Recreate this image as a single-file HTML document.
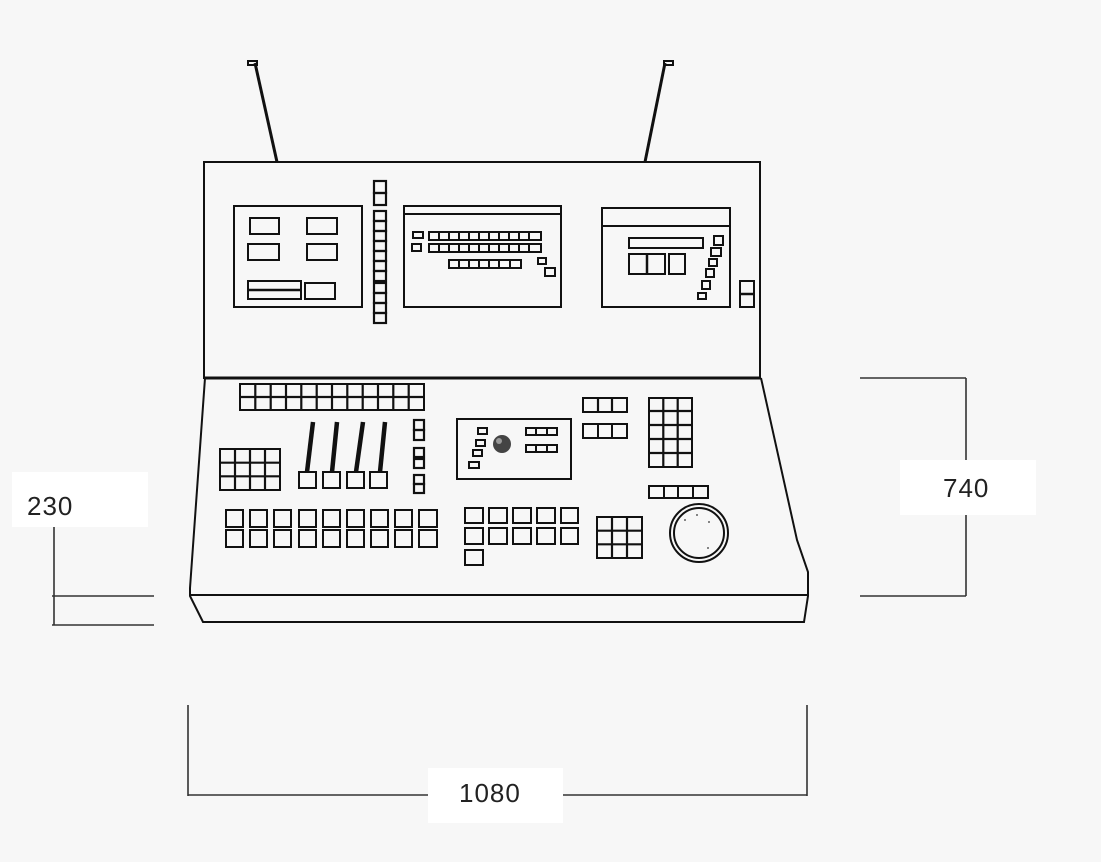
<!DOCTYPE html>
<html><head><meta charset="utf-8"><style>
html,body{margin:0;padding:0;background:#f7f7f7;}
svg{display:block;}
text{font-family:"Liberation Sans",sans-serif;font-size:26px;fill:#222;letter-spacing:1px;}
</style></head><body>
<svg width="1101" height="862" viewBox="0 0 1101 862" xmlns="http://www.w3.org/2000/svg">
<rect width="1101" height="862" fill="#f7f7f7"/>
<g fill="none" stroke="#111" stroke-width="2">
<line x1="255" y1="63" x2="277" y2="162" stroke-width="3"/>
<rect x="248" y="61" width="9" height="4"/>
<line x1="665" y1="63" x2="645" y2="162" stroke-width="3"/>
<rect x="664" y="61" width="9" height="4"/>
<rect x="204" y="162" width="556" height="216"/>
<rect x="234" y="206" width="128" height="101"/>
<rect x="250" y="218" width="29" height="16"/><rect x="307" y="218" width="30" height="16"/>
<rect x="248" y="244" width="31" height="16"/><rect x="307" y="244" width="30" height="16"/>
<rect x="248" y="281" width="53" height="18"/><line x1="248" y1="290" x2="301" y2="290" stroke-width="2.5"/>
<rect x="305" y="283" width="30" height="16"/>
<g stroke-width="2.2">
<rect x="374" y="181" width="12" height="12"/><rect x="374" y="193" width="12" height="12"/>
<rect x="374" y="211" width="12" height="10"/><rect x="374" y="221" width="12" height="10"/><rect x="374" y="231" width="12" height="10"/><rect x="374" y="241" width="12" height="10"/><rect x="374" y="251" width="12" height="10"/><rect x="374" y="261" width="12" height="10"/><rect x="374" y="271" width="12" height="10"/>
<rect x="374" y="283" width="12" height="10"/><rect x="374" y="293" width="12" height="10"/><rect x="374" y="303" width="12" height="10"/><rect x="374" y="313" width="12" height="10"/>
</g>
<rect x="404" y="206" width="157" height="101"/><line x1="404" y1="214" x2="561" y2="214"/>
<rect x="413" y="232" width="10" height="6"/><rect x="412" y="244" width="9" height="7"/>
<g stroke-width="2">
<rect x="429" y="232" width="112" height="8"/><rect x="429" y="244" width="112" height="8"/>
<path d="M439 232v8M449 232v8M459 232v8M469 232v8M479 232v8M489 232v8M499 232v8M509 232v8M519 232v8M529 232v8M439 244v8M449 244v8M459 244v8M469 244v8M479 244v8M489 244v8M499 244v8M509 244v8M519 244v8M529 244v8"/>
<rect x="449" y="260" width="72" height="8"/><path d="M459 260v8M469 260v8M479 260v8M489 260v8M499 260v8M510 260v8"/>
</g>
<rect x="538" y="258" width="8" height="6"/><rect x="545" y="268" width="10" height="8"/>
<rect x="602" y="208" width="128" height="99"/><line x1="602" y1="226" x2="730" y2="226"/>
<rect x="629" y="238" width="74" height="10"/>
<rect x="629" y="254" width="36" height="20"/><line x1="647" y1="254" x2="647" y2="274" stroke-width="2.5"/><rect x="669" y="254" width="16" height="20"/>
<rect x="714" y="236" width="9" height="9"/><rect x="711" y="248" width="10" height="8"/><rect x="709" y="259" width="8" height="7"/><rect x="706" y="269" width="8" height="8"/><rect x="702" y="281" width="8" height="8"/><rect x="698" y="293" width="8" height="6"/>
<rect x="740" y="281" width="14" height="26"/><line x1="740" y1="294" x2="754" y2="294" stroke-width="2.5"/>
<path d="M205 378 L190 588 L190 596 L203 622 L804 622 L808 596 L808 572 L797 540 L761 378"/>
<line x1="205" y1="378" x2="761" y2="378" stroke-width="3"/>
<line x1="190" y1="595" x2="808" y2="595"/>
<rect x="240" y="384" width="184" height="26"/><line x1="240" y1="397" x2="424" y2="397" stroke-width="2.2"/>
<path d="M255.3 384v26M270.7 384v26M286 384v26M301.3 384v26M316.7 384v26M332 384v26M347.3 384v26M362.7 384v26M378 384v26M393.3 384v26M408.7 384v26" stroke-width="2.2"/>
<rect x="220" y="449" width="60" height="41"/><path d="M235 449v41M250 449v41M265 449v41M220 462.7h60M220 476.3h60" stroke-width="2.2"/>
<g stroke-width="4.5"><line x1="313" y1="422" x2="307" y2="472"/><line x1="337" y1="422" x2="332" y2="472"/><line x1="363" y1="422" x2="356" y2="472"/><line x1="385" y1="422" x2="380" y2="472"/></g>
<rect x="299" y="472" width="17" height="16"/><rect x="323" y="472" width="17" height="16"/><rect x="347" y="472" width="17" height="16"/><rect x="370" y="472" width="17" height="16"/>
<g stroke-width="2.2"><rect x="414" y="420" width="10" height="10"/><rect x="414" y="430" width="10" height="10"/><rect x="414" y="448" width="10" height="9"/><rect x="414" y="459" width="10" height="9"/><rect x="414" y="475" width="10" height="9"/><rect x="414" y="484" width="10" height="9"/></g>
<g>
<rect x="226" y="510" width="17" height="17"/><rect x="250" y="510" width="17" height="17"/><rect x="274" y="510" width="17" height="17"/><rect x="299" y="510" width="17" height="17"/><rect x="323" y="510" width="17" height="17"/><rect x="347" y="510" width="17" height="17"/><rect x="371" y="510" width="17" height="17"/><rect x="395" y="510" width="17" height="17"/><rect x="419" y="510" width="18" height="17"/>
<rect x="226" y="530" width="17" height="17"/><rect x="250" y="530" width="17" height="17"/><rect x="274" y="530" width="17" height="17"/><rect x="299" y="530" width="17" height="17"/><rect x="323" y="530" width="17" height="17"/><rect x="347" y="530" width="17" height="17"/><rect x="371" y="530" width="17" height="17"/><rect x="395" y="530" width="17" height="17"/><rect x="419" y="530" width="18" height="17"/>
</g>
<rect x="457" y="419" width="114" height="60"/>
<rect x="478" y="428" width="9" height="6"/><rect x="476" y="440" width="9" height="6"/><rect x="473" y="450" width="9" height="6"/><rect x="469" y="462" width="10" height="6"/>
<rect x="526" y="428" width="31" height="7"/><path d="M536 428v7M547 428v7"/>
<rect x="526" y="445" width="31" height="7"/><path d="M536 445v7M547 445v7"/>
<rect x="583" y="398" width="44" height="14"/><path d="M598 398v14M612 398v14" stroke-width="2.2"/>
<rect x="583" y="424" width="44" height="14"/><path d="M598 424v14M612 424v14"/>
<rect x="649" y="398" width="43" height="69"/><path d="M663.3 398v69M677.7 398v69M649 411h43M649 425h43M649 439h43M649 453h43" stroke-width="2.2"/>
<rect x="649" y="486" width="59" height="12"/><path d="M664 486v12M678 486v12M693 486v12"/>
<rect x="465" y="508" width="18" height="15"/><rect x="489" y="508" width="18" height="15"/><rect x="513" y="508" width="18" height="15"/><rect x="537" y="508" width="18" height="15"/><rect x="561" y="508" width="17" height="15"/>
<rect x="465" y="528" width="18" height="16"/><rect x="489" y="528" width="18" height="16"/><rect x="513" y="528" width="18" height="16"/><rect x="537" y="528" width="18" height="16"/><rect x="561" y="528" width="17" height="16"/>
<rect x="465" y="550" width="18" height="15"/>
<rect x="597" y="517" width="45" height="41"/><path d="M612 517v41M627 517v41M597 530.7h45M597 544.3h45" stroke-width="2.2"/>
<circle cx="699" cy="533" r="29"/><circle cx="699" cy="533" r="25"/>
<g stroke="#333" stroke-width="1.6">
<line x1="54" y1="527" x2="54" y2="625"/>
<line x1="52" y1="596" x2="154" y2="596"/>
<line x1="52" y1="625" x2="154" y2="625"/>
<line x1="966" y1="378" x2="966" y2="596"/>
<line x1="860" y1="378" x2="966" y2="378"/>
<line x1="860" y1="596" x2="966" y2="596"/>
<line x1="188" y1="705" x2="188" y2="796"/>
<line x1="807" y1="705" x2="807" y2="796"/>
<line x1="188" y1="795" x2="807" y2="795"/>
</g>
</g>
<circle cx="502" cy="444" r="9" fill="#444"/>
<circle cx="499" cy="441" r="3" fill="#999"/>
<g fill="#333"><circle cx="685" cy="520" r="0.9"/><circle cx="697" cy="515" r="0.9"/><circle cx="709" cy="522" r="0.9"/><circle cx="708" cy="548" r="0.9"/></g>
<rect x="12" y="472" width="136" height="55" fill="#fff"/>
<text x="27" y="515">230</text>
<rect x="900" y="460" width="136" height="55" fill="#fff"/>
<text x="943" y="497">740</text>
<rect x="428" y="768" width="135" height="55" fill="#fff"/>
<text x="459" y="802">1080</text>
</svg>
</body></html>
